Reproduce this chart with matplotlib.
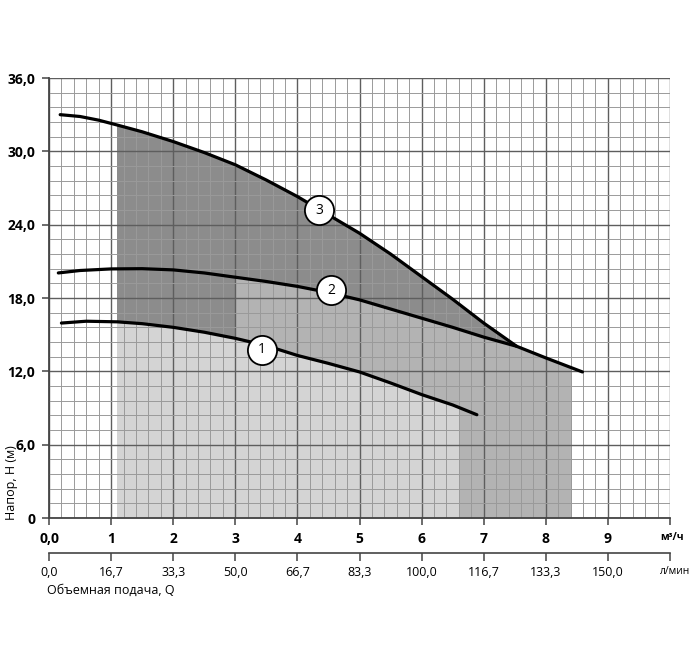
import numpy as np
import matplotlib
matplotlib.use("Agg")
import matplotlib.pyplot as plt
from matplotlib.patches import Rectangle

plt.rcParams['font.family'] = ['Open Sans', 'DejaVu Sans']

# ---- data (flow in m3/h, head in m) ----
q1 = [0.2, 0.6, 1.1, 1.5, 2.0, 2.5, 3.0, 3.5, 4.0, 4.5, 5.0, 5.5, 6.0, 6.5, 6.89]
h1 = [15.95, 16.1, 16.05, 15.9, 15.6, 15.2, 14.7, 14.1, 13.3, 12.65, 11.95, 11.05, 10.1, 9.25, 8.45]

q2 = [0.15, 0.5, 1.0, 1.5, 2.0, 2.5, 3.0, 3.5, 4.0, 4.5, 5.0, 5.5, 6.0, 6.5, 7.0, 7.53, 8.0, 8.59]
h2 = [20.05, 20.25, 20.38, 20.4, 20.3, 20.05, 19.7, 19.35, 18.95, 18.45, 17.85, 17.1, 16.35, 15.6, 14.8, 14.05, 13.1, 11.95]

q3 = [0.18, 0.5, 0.8, 1.1, 1.5, 2.0, 2.5, 3.0, 3.5, 4.0, 4.5, 5.0, 5.5, 6.0, 6.5, 7.0, 7.53]
h3 = [33.0, 32.85, 32.55, 32.15, 31.6, 30.8, 29.9, 28.9, 27.65, 26.3, 24.8, 23.3, 21.6, 19.75, 17.9, 15.95, 14.05]

# operating ranges (m3/h)
range1 = (1.1, 6.6)
range2 = (3.0, 8.4)
range3 = (1.1, 7.53)

# curve label positions
lab_names = ['1', '2', '3']
lab_q = [3.43, 4.54, 4.35]
lab_h = [13.75, 18.65, 25.2]

x_ticks = list(range(0, 11))
x_labels = ['0,0', '1', '2', '3', '4', '5', '6', '7', '8', '9', '']
y_ticks = [0, 6, 12, 18, 24, 30, 36]
y_labels = ['0', '6,0', '12,0', '18,0', '24,0', '30,0', '36,0']
lmin_labels = ['0,0', '16,7', '33,3', '50,0', '66,7', '83,3', '100,0', '116,7', '133,3', '150,0', '']

fig = plt.figure(figsize=(7, 6.5), dpi=100)
ax = fig.add_axes([49/700, 1-518/650, (670-49)/700, (518-78)/650])
ax.set_xlim(0, 10)
ax.set_ylim(0, 36)

col_dark = '#8c8c8c'
col_mid = '#b3b3b3'
col_light = '#d4d4d4'

fills = [(q3, h3, range3, col_dark), (q2, h2, range2, col_mid), (q1, h1, range1, col_light)]
for i, (q, h, rng, c) in enumerate(fills):
    pc = ax.fill_between(q, 0, h, color=c, lw=0, zorder=1 + i * 0.1)
    clip = Rectangle((rng[0], 0), rng[1] - rng[0], 40, transform=ax.transData)
    pc.set_clip_path(clip)

# grid
for xv in np.arange(0, 10.01, 0.2):
    major = abs(xv - round(xv)) < 1e-6
    ax.axvline(xv, color='#5e5e5e' if major else '#9a9a9a', lw=1.0 if major else 0.7, zorder=2)
for yv in np.arange(0, 36.01, 1.2):
    major = abs(yv / 6 - round(yv / 6)) < 1e-6
    ax.axhline(yv, color='#5e5e5e' if major else '#9a9a9a', lw=1.0 if major else 0.7, zorder=2)

for q, h in [(q1, h1), (q2, h2), (q3, h3)]:
    ax.plot(q, h, color='black', lw=2.3, solid_capstyle='round', solid_joinstyle='round', zorder=4)

for name, qx, hy in zip(lab_names, lab_q, lab_h):
    ax.plot(qx, hy, 'o', ms=21, mfc='white', mec='black', mew=1.3, zorder=5)
    ax.text(qx, hy, name, ha='center', va='center', fontsize=10, zorder=6)

for s in ['top', 'right']:
    ax.spines[s].set_visible(False)
for s in ['left', 'bottom']:
    ax.spines[s].set_color('#444444')
    ax.spines[s].set_linewidth(1.3)

ax.set_xticks(x_ticks)
ax.set_xticklabels(x_labels, fontweight='bold', fontsize=10)
ax.set_yticks(y_ticks)
ax.set_yticklabels(y_labels, fontweight='bold', fontsize=10)
ax.tick_params(axis='both', direction='out', length=5, width=1.1, color='#444444', pad=5)

sec = ax.secondary_xaxis(-35/440, functions=(lambda x: x * 1000 / 60, lambda l: l * 60 / 1000))
sec.set_xticks([t * 1000 / 60 for t in x_ticks])
sec.set_xticklabels(lmin_labels, fontsize=9)
sec.tick_params(direction='out', length=6, width=1.1, color='#444444', pad=3)
sec.spines['bottom'].set_color('#444444')
sec.spines['bottom'].set_linewidth(1.2)

fig.text(672/700, 1-538/650, 'м³/ч', ha='center', va='center', fontsize=7.5, fontweight='bold')
fig.text(675/700, 1-572/650, 'л/мин', ha='center', va='center', fontsize=7.5)
fig.text(47/700, 1-590/650, 'Объемная подача, Q', ha='left', va='center', fontsize=9)
fig.text(12/700, 1-520/650, 'Напор, H (м)', ha='center', va='bottom', rotation=90, fontsize=9)

fig.savefig('out.png', dpi=100)
